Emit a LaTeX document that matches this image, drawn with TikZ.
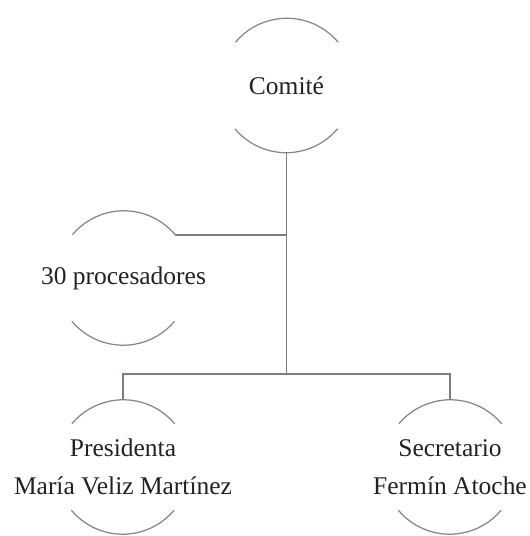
\documentclass[tikz,border=0pt]{standalone}
\usepackage{fontspec}
\setmainfont{Liberation Serif}
\usepackage{tikz}

\definecolor{arcgray}{RGB}{128,133,143}
\definecolor{linkgray}{RGB}{118,126,138}
\definecolor{textdark}{RGB}{34,34,38}

\begin{document}
\begin{tikzpicture}
\useasboundingbox (0,0) rectangle (10.58,10.72);
\begin{scope}[every node/.style={circle,inner sep=0pt,minimum size=2.68cm},
              every label/.style={align=center,inner sep=0pt,text=textdark,
                                  font=\fontsize{14.5}{21.5}\selectfont}]
    \node[label=center:{Comité}]                            (com)  at (5.73,9.01) {};
    \node[label=center:{30 procesadores}]                   (proc) at (2.47,5.16) {};
    \node[label=center:{Presidenta\\María Veliz Martínez}]  (pres) at (2.46,1.38) {};
    \node[label=center:{Secretario\\Fermín Atoche}]         (sec)  at (9.00,1.38) {};
\end{scope}

\begin{scope}[every path/.style={draw=arcgray,line width=0.7pt}]
    \foreach \n in {com,proc,pres,sec} {
        \path (\n.40) arc[start angle=40,end angle=140,radius=1.34cm];
        \path (\n.220) arc[start angle=220,end angle=320,radius=1.34cm];
    }
\end{scope}

\begin{scope}[every path/.style={draw=linkgray,line width=1pt}]
    \coordinate (bus) at (5.73,3.24);
    \path (com.south) -- (bus);
    \path (proc.40) -- (proc.40 -| com.south);
    \path (pres.north) |- (bus) -| (sec.north);
\end{scope}
\end{tikzpicture}
\end{document}
